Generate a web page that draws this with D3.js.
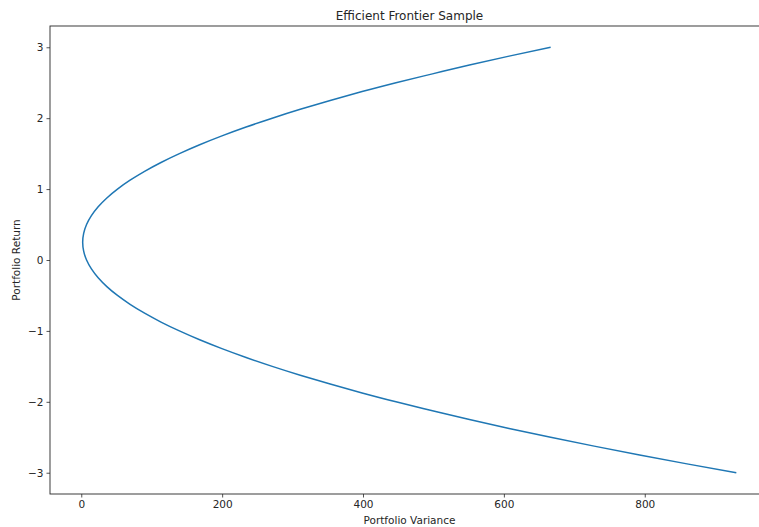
<!DOCTYPE html>
<html><head><meta charset="utf-8">
<script src="https://cdn.jsdelivr.net/npm/d3@7/dist/d3.min.js"></script>
<style>body{margin:0;background:#fff}svg{display:block}text{font-family:"DejaVu Sans",sans-serif;fill:#262626}</style>
</head><body>
<svg id="c" width="759" height="527"></svg>
<script>
// Portfolio return (y) and variance (x)
const returns = [-3,-2.875,-2.75,-2.625,-2.5,-2.375,-2.25,-2.125,-2,-1.875,-1.75,-1.625,-1.5,-1.375,-1.25,-1.125,-1,-0.875,-0.75,-0.625,-0.5,-0.375,-0.25,-0.125,0,0.125,0.25,0.375,0.5,0.625,0.75,0.875,1,1.125,1.25,1.375,1.5,1.625,1.75,1.875,2,2.125,2.25,2.375,2.5,2.625,2.75,2.875,3];
const variances = [930.0,860.0,792.7,728.2,666.4,607.4,551.1,498.6,446.8,398.7,353.4,310.9,271.1,234.0,199.7,168.1,139.3,113.2,89.9,69.3,51.4,36.3,24.0,14.4,7.5,3.4,2.0,3.4,7.5,14.4,24.0,36.3,51.4,69.3,89.9,113.2,139.3,168.1,199.7,234.0,271.1,310.9,353.4,398.7,446.8,498.6,551.1,607.4,666.4];
const xTicks = [0,200,400,600,800];
const yTicks = [-3,-2,-1,0,1,2,3];
const title = "Efficient Frontier Sample";
const xLabel = "Portfolio Variance";
const yLabel = "Portfolio Return";

const svg = d3.select("#c");
const L = 50, R = 769, T = 26, B = 494;
const x = d3.scaleLinear().domain([-44.4, 976.4]).range([L, R]);
const y = d3.scaleLinear().domain([-3.3, 3.3]).range([B, T]);
const fmt = d => String(d).replace("-", "\u2212");

const data = returns.map((r, i) => ({r, v: variances[i]}));
svg.append("path").datum(data)
  .attr("fill", "none").attr("stroke", "#1f77b4").attr("stroke-width", 1.5)
  .attr("d", d3.line().x(d => x(d.v)).y(d => y(d.r)).curve(d3.curveMonotoneY));

const gx = svg.append("g").attr("transform", `translate(0,${B})`)
  .call(d3.axisBottom(x).tickValues(xTicks).tickSize(3.5).tickPadding(3).tickFormat(fmt));
const gy = svg.append("g").attr("transform", `translate(${L},0)`)
  .call(d3.axisLeft(y).tickValues(yTicks).tickSize(3.5).tickPadding(3).tickFormat(fmt));
[gx, gy].forEach(g => {
  g.select(".domain").remove();
  g.selectAll("line").attr("stroke", "#262626").attr("stroke-width", 0.8);
  g.selectAll("text").attr("font-size", 10.5).attr("fill", "#262626").style("font-family", '"DejaVu Sans",sans-serif');
});

svg.append("rect").attr("x", L).attr("y", T).attr("width", R - L).attr("height", B - T)
  .attr("fill", "none").attr("stroke", "#262626").attr("stroke-width", 0.9);

svg.append("text").attr("x", (L + R) / 2).attr("y", 20).attr("text-anchor", "middle")
  .attr("font-size", 12).text(title);
svg.append("text").attr("x", (L + R) / 2).attr("y", 524).attr("text-anchor", "middle")
  .attr("font-size", 10.5).text(xLabel);
svg.append("text").attr("transform", `translate(20,${(T + B) / 2}) rotate(-90)`)
  .attr("text-anchor", "middle").attr("font-size", 10.5).text(yLabel);
</script>
</body></html>
